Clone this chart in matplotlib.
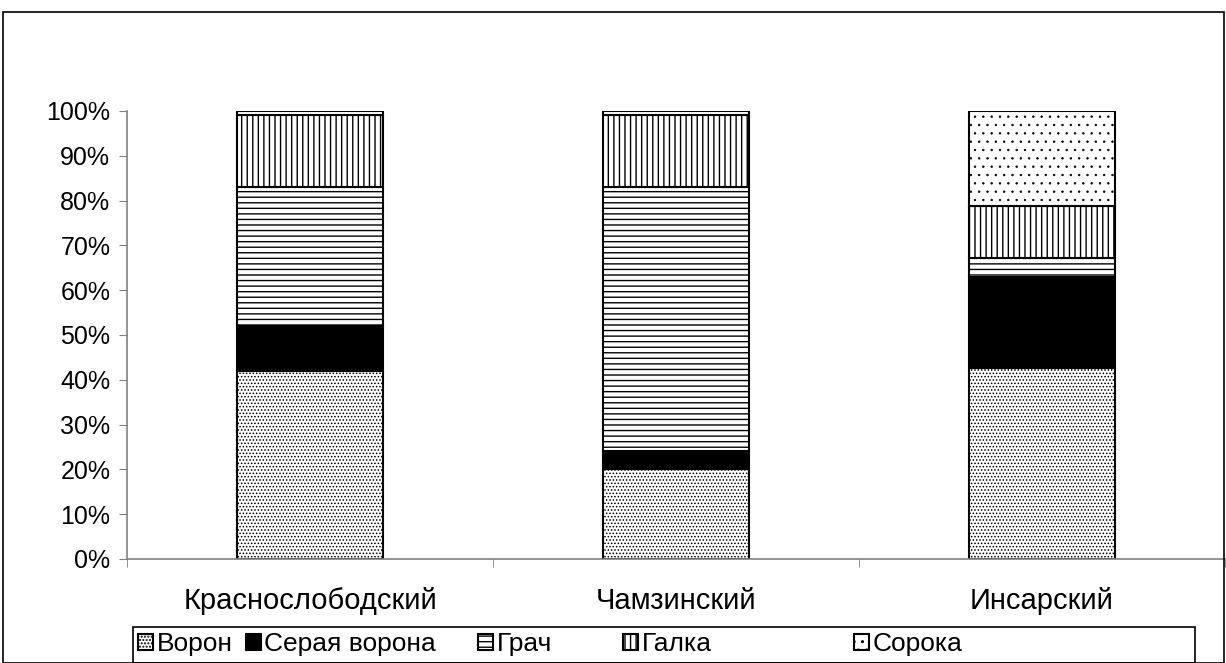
import matplotlib
matplotlib.use("Agg")
import matplotlib.pyplot as plt
from matplotlib.patches import Rectangle
import numpy as np

plt.rcParams['font.family'] = ['Liberation Sans', 'DejaVu Sans']

# Данные (доли видов, %)
rajony = ['Краснослободский', 'Чамзинский', 'Инсарский']
vidy = ['Ворон', 'Серая ворона', 'Грач', 'Галка', 'Сорока']
voron = [42, 20, 42.6]
seraya_vorona = [10, 4, 20.4]
grach = [31, 59, 4.2]
galka = [16, 16, 11.6]
soroka = [1, 1, 21.2]

ryady = [voron, seraya_vorona, grach, galka, soroka]
cveta = ['white', 'black', 'white', 'white', 'white']
shtrihi = ['.....', None, '---', '|||', '..']
tolshina_shtriha = [0.7, 1.0, 1.0, 1.0, 0.5]
# левые края элементов легенды (пиксели)
legenda_x = [138, 246, 478, 623, 854]

W, H = 1226, 663
fig = plt.figure(figsize=(W / 100, H / 100), dpi=100)

# рамка вокруг всей диаграммы
fig.patches.append(Rectangle((3 / W, 0), (1224 - 3) / W, 1 - 12 / H,
                             transform=fig.transFigure, fill=False,
                             edgecolor='black', linewidth=1.2))

ax = fig.add_axes([127 / W, 1 - 559 / H, (1225 - 127) / W, (559 - 111) / H])

x = np.arange(len(rajony))
niz = np.zeros(len(rajony))
stolbiki = []
for ryad, cvet, shtrih, tol, vid in zip(ryady, cveta, shtrihi, tolshina_shtriha, vidy):
    with plt.rc_context({'hatch.linewidth': tol}):
        b = ax.bar(x, ryad, bottom=niz, width=0.4, color=cvet, hatch=shtrih,
                   edgecolor='black', linewidth=1.5, label=vid)
    stolbiki.append(b)
    niz += np.array(ryad)

ax.set_xlim(-0.5, 2.5)
ax.set_ylim(0, 100)
ax.set_yticks(np.arange(0, 101, 10))
ax.set_yticklabels([f'{v}%' for v in range(0, 101, 10)], fontsize=18)
ax.set_xticks(x)
ax.set_xticklabels(rajony, fontsize=21)
ax.set_xticks([-0.5, 0.5, 1.5, 2.5], minor=True)
ax.tick_params(axis='x', which='major', length=0, pad=20)
ax.tick_params(axis='x', which='minor', length=6, color='#808080', direction='out')
ax.tick_params(axis='y', length=6, color='#808080', pad=6)

for s in ['top', 'right']:
    ax.spines[s].set_visible(False)
for s in ['left', 'bottom']:
    ax.spines[s].set_color('#808080')
    ax.spines[s].set_linewidth(1.2)

# рамка легенды
fig.patches.append(Rectangle((133 / W, 0), (1195 - 133) / W, 1 - 627 / H,
                             transform=fig.transFigure, fill=False,
                             edgecolor='black', linewidth=1.2))
# каждый элемент легенды ставим отдельно, как в Excel
for b, vid, lx in zip(stolbiki, vidy, legenda_x):
    fig.legend([b], [vid], loc='upper left', bbox_to_anchor=(lx / W, 1 - 632 / H),
               fontsize=19, frameon=False, handlelength=0.55, handleheight=0.55,
               handletextpad=0.15, borderpad=0.0, borderaxespad=0)

fig.savefig('out.png', dpi=100)
